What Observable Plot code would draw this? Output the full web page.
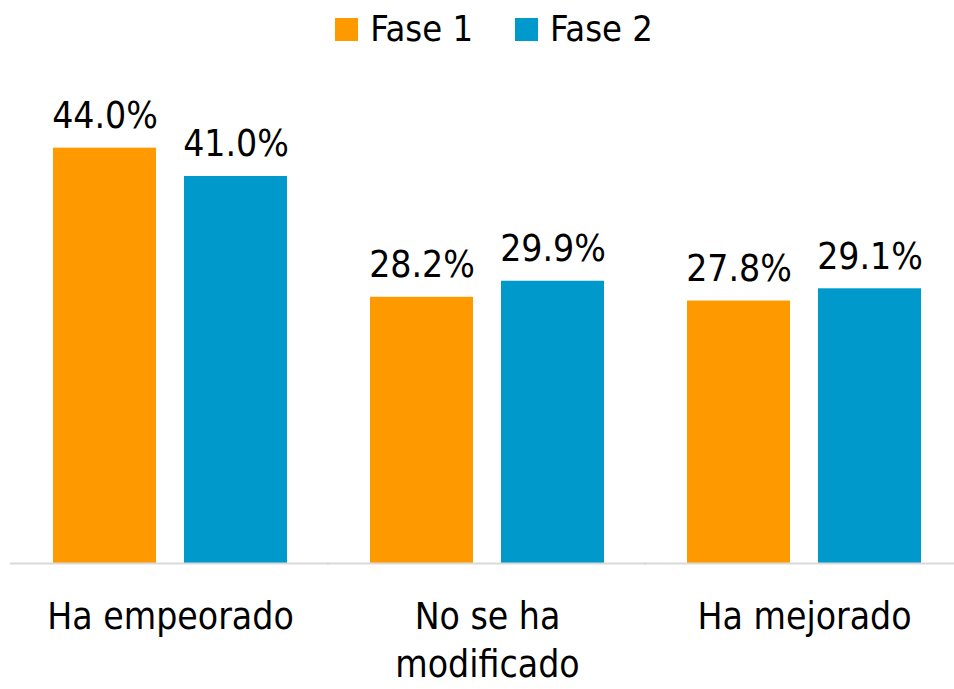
<!DOCTYPE html>
<html>
<head>
<meta charset="utf-8">
<script src="https://cdn.jsdelivr.net/npm/d3@7"></script>
<script src="https://cdn.jsdelivr.net/npm/@observablehq/plot@0.6"></script>
<style>
  html, body { margin: 0; padding: 0; background: #fff; }
  body { width: 954px; height: 689px; overflow: hidden; font-family: "DejaVu Sans Condensed", "Liberation Sans Narrow", "DejaVu Sans", sans-serif; font-stretch: condensed; }
  #legend { height: 58px; line-height: 56px; display: flex; align-items: center; justify-content: center; padding-left: 34px; font-size: 36px; color: #000; }
  .item { display: flex; align-items: center; margin: 0 21px; }
  .sw { width: 23px; height: 23px; margin-right: 12px; }
</style>
</head>
<body>
<div id="legend"></div>
<div id="chart"></div>
<script>
const categories = ["Ha empeorado", "No se ha modificado", "Ha mejorado"];
const tickLabels = ["Ha empeorado", "No se ha\nmodificado", "Ha mejorado"];
const series = ["Fase 1", "Fase 2"];
const fase1 = [44.0, 28.2, 27.8];
const fase2 = [41.0, 29.9, 29.1];
const colors = ["#FF9900", "#0099CC"];

const data = [];
categories.forEach((c, i) => {
  data.push({category: c, serie: series[0], value: fase1[i]});
  data.push({category: c, serie: series[1], value: fase2[i]});
});

const legend = document.getElementById("legend");
series.forEach((s, i) => {
  const it = document.createElement("div");
  it.className = "item";
  const sw = document.createElement("span");
  sw.className = "sw";
  sw.style.background = colors[i];
  const t = document.createElement("span");
  t.textContent = s;
  it.appendChild(sw); it.appendChild(t);
  legend.appendChild(it);
});

const fontFamily = '"DejaVu Sans Condensed", "Liberation Sans Narrow", "DejaVu Sans", sans-serif';

const chart = Plot.plot({
  width: 954,
  height: 631,
  marginTop: 33,
  marginBottom: 126,
  marginLeft: 10,
  marginRight: 0,
  style: {fontFamily, fontSize: "36px", fontStretch: "condensed", color: "#000", background: "#fff", overflow: "visible"},
  fx: {domain: categories, paddingInner: 0.2555, paddingOuter: 0.1167, align: 0.5677, label: null},
  x: {domain: series, paddingInner: 0.212, paddingOuter: 0, axis: null},
  y: {domain: [0, 50], axis: null},
  color: {domain: series, range: colors},
  marks: [
    Plot.barY(data, {fx: "category", x: "serie", y: "value", fill: "serie"}),
    Plot.text(data, {fx: "category", x: "serie", y: "value", text: d => d.value.toFixed(1) + "%", lineAnchor: "bottom", dy: -20, fill: "#000", fontSize: 37}),
    Plot.ruleY([0], {stroke: "#d9d9d9", strokeWidth: 2, insetLeft: -42, insetRight: -42}),
    Plot.axisFx({anchor: "bottom", tickSize: 0, tickPadding: 31, fontSize: 37, lineHeight: 1.3, tickFormat: c => tickLabels[categories.indexOf(c)], label: null})
  ]
});
document.getElementById("chart").appendChild(chart);
</script>
</body>
</html>
